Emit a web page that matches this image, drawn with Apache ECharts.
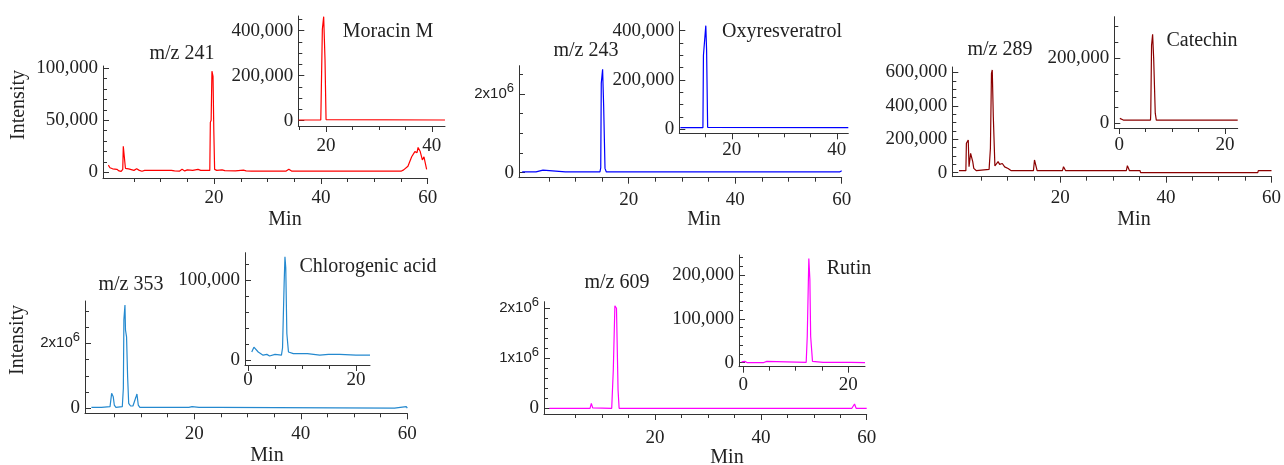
<!DOCTYPE html>
<html>
<head>
<meta charset="utf-8">
<title>Extracted ion chromatograms</title>
<script src="https://cdn.jsdelivr.net/npm/echarts@6.0.0/dist/echarts.min.js"></script>
<style>
  html, body { margin: 0; padding: 0; background: #fff; }
  #chart { width: 1284px; height: 465px; }
</style>
</head>
<body>
<div id="chart"></div>
<script>
// traces: [retention time (min), intensity]
const mz241 = [[0.2, 7000], [0.5, 4500], [1.0, 3500], [1.8, 3000], [2.2, 1500], [2.6, 1000], [2.9, 3000], [3.0, 25000], [3.2, 26000], [3.4, 4000], [4.0, 3500], [5.0, 2000], [5.5, 3500], [6.0, 2000], [6.5, 1200], [7.0, 2000], [9.0, 2000], [12.0, 2000], [12.3, 3500], [12.6, 1500], [13.5, 1200], [14.0, 3000], [14.5, 1500], [15.0, 2500], [16.0, 2000], [17.0, 3000], [17.5, 2000], [19.2, 2000], [19.3, 48000], [19.45, 50000], [19.6, 97000], [19.8, 92000], [19.95, 40000], [20.1, 3000], [20.5, 2000], [21.5, 2500], [22.0, 1800], [24.0, 1500], [25.5, 2200], [26.0, 1500], [27.0, 1300], [30.0, 1300], [30.3, 2200], [30.6, 1300], [33.5, 1300], [34.0, 3000], [34.5, 1300], [40, 1200], [50, 1200], [55.0, 1200], [55.5, 2500], [56.3, 6000], [57.0, 15000], [57.6, 20000], [58.0, 19000], [58.2, 24000], [58.6, 20000], [59.0, 12000], [59.3, 15000], [59.8, 3000]];
const moracinM = [[14.8, 3000], [19.0, 3000], [19.05, 62000], [19.3, 406000], [19.55, 462000], [19.8, 273000], [20.0, 5000], [20.2, 3000], [42.5, 3000]];
const mz243 = [[0, 20000], [2.6, 20000], [2.8, 65000], [3.9, 65000], [4.1, 20000], [8.1, 20000], [8.2, 50000], [8.3, 20000], [14.6, 20000], [14.75, 120000], [14.85, 2270000], [15.1, 2630000], [15.3, 1680000], [15.55, 110000], [15.8, 20000], [59.6, 20000], [60, 50000]];
const oxyresveratrol = [[10.2, 6500], [14.5, 6500], [14.6, 300000], [15.05, 420000], [15.2, 321000], [15.4, 8000], [15.7, 6500], [42.2, 6500]];
const mz289 = [[0.8, 12000], [2.1, 12000], [2.2, 176000], [2.55, 196000], [2.7, 36000], [3.0, 116000], [3.2, 126000], [3.4, 66000], [3.6, 26000], [4.1, 12000], [6.5, 20000], [6.75, 146000], [6.95, 595000], [7.1, 615000], [7.3, 335000], [7.6, 40000], [8.2, 66000], [8.5, 50000], [9.0, 55000], [9.45, 35000], [10.1, 25000], [10.7, 12000], [14.9, 12000], [15.1, 76000], [15.4, 76000], [15.6, 12000], [17.0, 12000], [17.1, 20000], [17.3, 12000], [20.4, 12000], [20.6, 36000], [21.0, 12000], [32.5, 12000], [32.7, 42000], [33.1, 12000], [35.1, 12000], [35.2, 0], [37.5, 0], [37.7, 10000], [38.0, 0], [39.3, 0], [39.5, 10000], [39.8, 0], [57.4, 0], [57.5, 12000], [60, 12000]];
const catechin = [[0.1, 15000], [0.75, 10000], [5.9, 10000], [5.95, 31000], [6.1, 240000], [6.3, 274000], [6.5, 200000], [6.8, 31000], [7.0, 10000], [22.4, 10000]];
const mz353 = [[0.7, 30000], [2.2, 30000], [2.4, 0], [2.6, 30000], [4.2, 50000], [4.5, 460000], [4.8, 357000], [5.0, 100000], [5.3, 30000], [6.5, 50000], [6.7, 615000], [6.8, 2720000], [7.0, 3180000], [7.1, 2410000], [7.3, 2200000], [7.5, 973000], [7.7, 154000], [8.05, 70000], [8.5, 70000], [9.05, 338000], [9.25, 440000], [9.5, 100000], [9.8, 30000], [15.0, 30000], [15.1, 50000], [15.3, 30000], [19.0, 30000], [19.2, 50000], [19.6, 50000], [19.8, 30000], [20.9, 30000], [21.1, 50000], [21.5, 30000], [24.4, 30000], [24.5, 60000], [24.7, 5000], [57.6, 5000], [57.8, 50000], [59.8, 50000], [60, 5000]];
const chlorogenicAcid = [[0.7, 10000], [1.1, 16000], [1.9, 10000], [2.8, 6000], [3.5, 7000], [4.0, 5000], [5.0, 7000], [6.2, 6000], [6.4, 15000], [6.7, 96000], [6.85, 129000], [7.0, 115000], [7.2, 33000], [7.5, 10000], [8.4, 8000], [10.6, 8000], [10.8, 10000], [11.0, 8000], [13.3, 6000], [14.9, 7000], [17.0, 7000], [20.0, 6000], [22.6, 6000]];
const mz609 = [[0, 0], [7.7, 0], [7.95, 100000], [8.2, 10000], [8.4, 0], [11.8, 0], [12.0, 30000], [12.1, 766000], [12.4, 2050000], [12.7, 2000000], [13.0, 366000], [13.2, 0], [57.2, 0], [57.7, 86000], [58.0, 0], [60, 0]];
const rutin = [[-0.3, 2000], [0.3, 3000], [0.8, 0], [3.8, 0], [4.0, 3000], [4.5, 3000], [4.7, 0], [12.0, 1000], [12.2, 60000], [12.4, 62000], [12.5, 238000], [12.7, 190000], [12.85, 60000], [13.0, 58000], [13.2, 3000], [15.2, 1000], [20.5, 1000], [20.6, 3000], [20.8, 0], [23.2, 0]];

// time ticks
const xLabMain = [20, 40, 60];
const xMinorMain = [5, 10, 15, 25, 30, 35, 45, 50, 55];
const xLabLate = [20, 40];
const xMinorLate = [15, 25, 30, 35];
const xLabEarly = [0, 20];
const xMinorEarly = [5, 10, 15];

// intensity ticks
const y241Lab = [0, 50000, 100000];
const y241Minor = [10000, 20000, 30000, 40000, 60000, 70000, 80000, 90000];
const yMoracinLab = [0, 200000, 400000];
const yMoracinMinor = [50000, 100000, 150000, 250000, 300000, 350000, 450000];
const y243Lab = [0, 2000000];
const y243Minor = [500000, 1000000, 1500000, 2500000];
const yOxyLab = [0, 200000, 400000];
const yOxyMinor = [50000, 100000, 150000, 250000, 300000, 350000];
const y289Lab = [0, 200000, 400000, 600000];
const y289Minor = [50000, 100000, 150000, 250000, 300000, 350000, 450000, 500000, 550000];
const yCatLab = [0, 200000];
const yCatMinor = [50000, 100000, 150000, 250000, 300000];
const y353Lab = [0, 2000000];
const y353Minor = [500000, 1000000, 1500000, 2500000, 3000000];
const yChlLab = [0, 100000];
const yChlMinor = [20000, 40000, 60000, 80000, 120000];
const y609Lab = [0, 1000000, 2000000];
const y609Minor = [200000, 400000, 600000, 800000, 1200000, 1400000, 1600000, 1800000];
const yRutLab = [0, 100000, 200000];
const yRutMinor = [20000, 40000, 60000, 80000, 120000, 140000, 160000, 180000, 220000, 240000];

const SERIF = "'Liberation Serif','Times New Roman',serif";
const SANS = "'Liberation Sans',Arial,sans-serif";
const INK = '#222';
const AXIS = '#333';

// layout of each plot: box = [left, top, right, bottom] in px
const panels = [
  { box: [103, 66, 427.7, 178], x: [-0.8, 60], y: [-5300, 102000], xLab: xLabMain, xMin: xMinorMain, yLab: y241Lab, yMin: y241Minor, data: mz241, color: '#ff0000', gap: 14 },
  { box: [298.3, 16, 445, 126], x: [14.75, 42.5], y: [-23600, 465000], xLab: xLabLate, xMin: xMinorLate, yLab: yMoracinLab, yMin: yMoracinMinor, data: moracinM, color: '#ff0000', gap: 14 },
  { box: [519, 65.7, 841.7, 177.7], x: [-0.6, 60], y: [-127000, 2720000], xLab: xLabMain, xMin: xMinorMain, yLab: y243Lab, yMin: y243Minor, data: mz243, color: '#0000ff', gap: 16, exp: true },
  { box: [679.3, 21.7, 848.3, 133.3], x: [10, 42.2], y: [-16200, 436000], xLab: xLabLate, xMin: xMinorLate, yLab: yOxyLab, yMin: yOxyMinor, data: oxyresveratrol, color: '#0000ff', gap: 10 },
  { box: [952.3, 67, 1273.3, 176.7], x: [-0.47, 60], y: [-24000, 633000], xLab: xLabMain, xMin: xMinorMain, yLab: y289Lab, yMin: y289Minor, data: mz289, color: '#8b0000', gap: 15 },
  { box: [1114.3, 16.7, 1237.7, 128], x: [-0.95, 22.4], y: [-14500, 328000], xLab: xLabEarly, xMin: xMinorEarly, yLab: yCatLab, yMin: yCatMinor, data: catechin, color: '#8b0000', gap: 11 },
  { box: [85, 301, 407.3, 413.3], x: [-0.5, 60], y: [-154000, 3302000], xLab: xLabMain, xMin: xMinorMain, yLab: y353Lab, yMin: y353Minor, data: mz353, color: '#2489cf', gap: 14, exp: true },
  { box: [245, 252.7, 370, 365], x: [-0.55, 22.6], y: [-6250, 134000], xLab: xLabEarly, xMin: xMinorEarly, yLab: yChlLab, yMin: yChlMinor, data: chlorogenicAcid, color: '#2489cf', gap: 9 },
  { box: [544, 301.7, 866.7, 414], x: [-1, 60], y: [-114000, 2132000], xLab: xLabMain, xMin: xMinorMain, yLab: y609Lab, yMin: y609Minor, data: mz609, color: '#ff00ff', gap: 18, exp: true },
  { box: [739, 255, 865, 366.7], x: [-0.8, 23.2], y: [-9100, 246000], xLab: xLabEarly, xMin: xMinorEarly, yLab: yRutLab, yMin: yRutMinor, data: rutin, color: '#ff00ff', gap: 12 }
];

const titles = [
  ['m/z 241', 182, 54], ['Moracin M', 388, 32],
  ['m/z 243', 586, 51], ['Oxyresveratrol', 782, 32],
  ['m/z 289', 1000, 50], ['Catechin', 1202, 41],
  ['m/z 353', 131, 285], ['Chlorogenic acid', 368, 267],
  ['m/z 609', 617, 283], ['Rutin', 849, 269],
  ['Min', 285, 220], ['Min', 704, 220], ['Min', 1134, 220],
  ['Min', 267, 456], ['Min', 727, 458]
];
const yTitles = [['Intensity', 19, 105], ['Intensity', 18, 340]];

const grid = [], xAxis = [], yAxis = [], series = [];
const lineStyle = { color: AXIS, width: 1 };

panels.forEach(function (p, i) {
  const [l, t, r, b] = p.box;
  grid.push({ left: l, top: t, width: r - l, height: b - t, containLabel: false });

  // labelled ticks on one axis, minor ticks on a twin axis without line
  xAxis.push({
    type: 'value', gridIndex: i, min: p.x[0], max: p.x[1], position: 'bottom',
    axisLine: { show: true, onZero: false, lineStyle: lineStyle },
    axisTick: { show: true, inside: false, length: 6, customValues: p.xLab, lineStyle: lineStyle },
    axisLabel: { show: true, customValues: p.xLab, margin: p.gap - 3, fontSize: 19, fontFamily: SERIF, color: INK },
    splitLine: { show: false }
  });
  xAxis.push({
    type: 'value', gridIndex: i, min: p.x[0], max: p.x[1], position: 'bottom',
    axisLine: { show: false, onZero: false },
    axisTick: { show: true, inside: false, length: 4, customValues: p.xMin, lineStyle: lineStyle },
    axisLabel: { show: false },
    splitLine: { show: false }
  });

  const rich = {
    b: { fontFamily: SANS, fontSize: 15, color: INK, lineHeight: 24 },
    s: { fontFamily: SANS, fontSize: 13, color: INK, lineHeight: 13, verticalAlign: 'top' }
  };
  yAxis.push({
    type: 'value', gridIndex: i, min: p.y[0], max: p.y[1], position: 'left',
    axisLine: { show: true, onZero: false, lineStyle: lineStyle },
    axisTick: { show: true, inside: true, length: 6, customValues: p.yLab, lineStyle: lineStyle },
    axisLabel: {
      show: true, customValues: p.yLab, margin: 5, fontSize: 19, fontFamily: SERIF, color: INK,
      rich: rich,
      formatter: function (v) {
        if (v === 0) return '0';
        if (p.exp) return '{b|' + (v / 1e6) + 'x10}{s|6}';
        return v.toLocaleString('en-US');
      }
    },
    splitLine: { show: false }
  });
  yAxis.push({
    type: 'value', gridIndex: i, min: p.y[0], max: p.y[1], position: 'left',
    axisLine: { show: false, onZero: false },
    axisTick: { show: true, inside: true, length: 4, customValues: p.yMin, lineStyle: lineStyle },
    axisLabel: { show: false },
    splitLine: { show: false }
  });

  series.push({
    type: 'line', xAxisIndex: 2 * i, yAxisIndex: 2 * i,
    data: p.data, showSymbol: false, symbol: 'none', silent: true,
    lineStyle: { color: p.color, width: 1.2 }
  });
});

const graphic = titles.map(function (tt) {
  return {
    type: 'text', x: tt[1], y: tt[2], silent: true,
    style: { text: tt[0], fontSize: 20, fontFamily: SERIF, fill: INK, align: 'center', verticalAlign: 'middle' }
  };
}).concat(yTitles.map(function (tt) {
  return {
    type: 'text', x: tt[1], y: tt[2], rotation: Math.PI / 2, silent: true,
    style: { text: tt[0], fontSize: 20, fontFamily: SERIF, fill: INK, align: 'center', verticalAlign: 'middle' }
  };
}));

const chart = echarts.init(document.getElementById('chart'));
chart.setOption({
  animation: false,
  backgroundColor: '#fff',
  textStyle: { fontFamily: SERIF },
  grid: grid,
  xAxis: xAxis,
  yAxis: yAxis,
  series: series,
  graphic: graphic
});
</script>
</body>
</html>
